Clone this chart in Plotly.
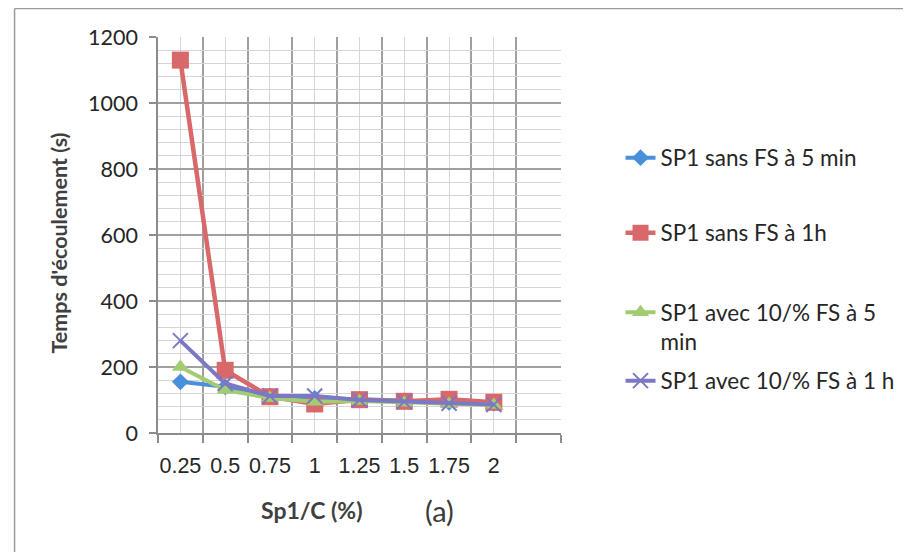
import numpy as np
import plotly.graph_objects as go

categories = ["0.25", "0.5", "0.75", "1", "1.25", "1.5", "1.75", "2"]
sp1_sans_fs_5min = [155, 140, 112, 105, 102, 97, 93, 90]
sp1_sans_fs_1h = [1130, 190, 110, 88, 101, 96, 102, 93]
sp1_avec_fs_5min = [200, 130, 106, 95, 97, 92, 88, 85]
sp1_avec_fs_1h = [280, 150, 112, 112, 100, 95, 90, 86]
y_ticks = [0, 200, 400, 600, 800, 1000, 1200]

series_names = ["SP1 sans FS à 5 min", "SP1 sans FS à 1h",
                "SP1 avec 10/% FS à 5<br>min", "SP1 avec 10/% FS à 1 h"]

# page has an 8px body margin; work in screen pixels and shift
OFF = 8
SW, SH = 911, 552
W, H = SW - OFF, SH - OFF
L, R, T, B = 158 - OFF, 571 - OFF, 37 - OFF, 433 - OFF

xpos = np.arange(len(categories))
n_slots = len(categories) + 1
boundaries = np.arange(n_slots + 1) - 0.5

fig = go.Figure()

styles = [
    dict(color="#4a8fdb", symbol="diamond", size=13, lw=4),
    dict(color="#d9686a", symbol="square", size=17, lw=4.5),
    dict(color="#a3cc72", symbol="triangle-up", size=15, lw=4),
    dict(color="#7b78c4", symbol="x-thin-open", size=15, lw=4),
]
data = [sp1_sans_fs_5min, sp1_sans_fs_1h, sp1_avec_fs_5min, sp1_avec_fs_1h]
legend_ids = ["legend", "legend2", "legend3", "legend4"]

for i, (vals, st) in enumerate(zip(data, styles)):
    marker = dict(symbol=st["symbol"], size=st["size"], color=st["color"])
    if st["symbol"] == "x-thin-open":
        marker["line"] = dict(width=2, color=st["color"])
    fig.add_trace(go.Scatter(
        x=xpos, y=vals, mode="lines+markers", name=series_names[i],
        line=dict(color=st["color"], width=st["lw"]),
        marker=marker, legend=legend_ids[i],
    ))

def px_x(sx):
    return (sx - OFF - L) / (R - L)

def px_y(sy):
    return (B - (sy - OFF)) / (B - T)

legend_font = dict(family="Lato, sans-serif", size=22.5, color="#262626")
legend_y = [158, 233, 291, 381]
leg_common = dict(x=px_x(632), xanchor="left", yanchor="middle",
                  font=legend_font, bgcolor="rgba(0,0,0,0)", valign="top",
                  itemwidth=30)
layout_legends = {}
for lid, ly in zip(legend_ids, legend_y):
    d = dict(leg_common)
    d["y"] = px_y(ly)
    if lid == "legend3":
        d["yanchor"] = "top"
    layout_legends[lid] = d

fig.update_layout(
    width=W, height=H, autosize=False,
    margin=dict(l=L, r=W - R, t=T, b=H - B, pad=0),
    paper_bgcolor="white", plot_bgcolor="white",
    showlegend=True,
    **layout_legends,
    xaxis=dict(
        range=[boundaries[0], boundaries[-1]],
        tickmode="array", tickvals=xpos, ticktext=categories,
        ticks="", showgrid=True, gridcolor="#d6d6d6", gridwidth=1,
        tickfont=dict(family="Liberation Sans, Arial, sans-serif", size=21.5, color="#262626"),
        ticklabelstandoff=12,
        showline=True, linecolor="#8c8c8c", linewidth=1.5,
        zeroline=False,
        minor=dict(tickmode="array", tickvals=boundaries, ticks="outside",
                   ticklen=8, tickcolor="#8c8c8c", tickwidth=1.5,
                   showgrid=True, gridcolor="#a0a0a0", gridwidth=1.5),
    ),
    yaxis=dict(
        range=[0, 1200], tickmode="array", tickvals=y_ticks,
        ticks="outside", ticklen=7, tickcolor="#8c8c8c", tickwidth=1.5,
        showgrid=True, gridcolor="#a0a0a0", gridwidth=1.5,
        tickfont=dict(family="Lato, sans-serif", size=21.5, color="#262626"),
        ticklabelstandoff=7,
        showline=True, linecolor="#8c8c8c", linewidth=1.5,
        zeroline=False,
        minor=dict(dtick=40, tick0=0, showgrid=True, gridcolor="#d6d6d6",
                   gridwidth=1, ticks=""),
    ),
    annotations=[
        dict(text="<b>Temps d'écoulement (s)</b>", textangle=-90,
             xref="paper", yref="paper", x=px_x(57), y=px_y(243),
             xanchor="center", yanchor="middle",
             showarrow=False, font=dict(family="Lato, sans-serif", size=21.5, color="#404040")),
        dict(text="<b>Sp1/C (%)</b>", xref="paper", yref="paper",
             x=px_x(316), y=px_y(510), xanchor="center", yanchor="middle",
             showarrow=False,
             font=dict(family="Lato, sans-serif", size=23, color="#404040")),
        dict(text="(a)", xref="paper", yref="paper",
             x=px_x(446), y=px_y(510), xanchor="center", yanchor="middle",
             showarrow=False,
             font=dict(family="Lato, sans-serif", size=29, color="#3a3a3a")),
    ],
    shapes=[
        dict(type="line", xref="paper", yref="paper", x0=px_x(11), x1=px_x(940),
             y0=px_y(8.5), y1=px_y(8.5), line=dict(color="#9a9a9a", width=1.5)),
        dict(type="line", xref="paper", yref="paper", x0=px_x(11), x1=px_x(11),
             y0=px_y(8.5), y1=px_y(600), line=dict(color="#9a9a9a", width=1.5)),
    ],
)

fig.write_html("out.html")
